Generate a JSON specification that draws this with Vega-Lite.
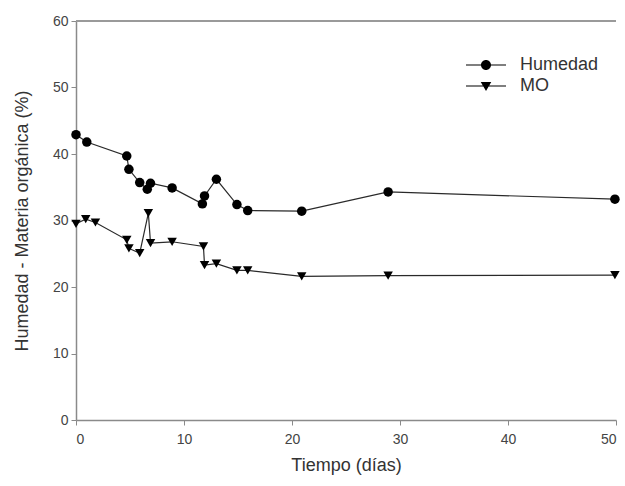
{
  "$schema": "https://vega.github.io/schema/vega-lite/v6.json",
  "width": 540,
  "height": 399,
  "autosize": {"type": "none"},
  "padding": {"left": 76, "top": 21, "right": 9, "bottom": 66},
  "background": "white",
  "config": {
    "view": {"stroke": null},
    "font": "Liberation Sans",
    "axis": {
      "grid": false,
      "domainColor": "#8a8a8a",
      "domainWidth": 1.5,
      "tickColor": "#8a8a8a",
      "tickSize": 5,
      "labelFont": "Liberation Sans",
      "labelFontSize": 14,
      "labelColor": "#444444",
      "titleFont": "Liberation Sans",
      "titleFontSize": 18,
      "titleFontWeight": "normal",
      "titleColor": "#333333"
    }
  },
  "data": {
    "values": [
      {"serie": "Humedad", "leyenda": "Humedad", "ord": 1, "dia": 0, "valor": 42.9},
      {"serie": "Humedad", "leyenda": "Humedad", "ord": 2, "dia": 1, "valor": 41.8},
      {"serie": "Humedad", "leyenda": "Humedad", "ord": 3, "dia": 4.7, "valor": 39.7},
      {"serie": "Humedad", "leyenda": "Humedad", "ord": 4, "dia": 4.9, "valor": 37.7},
      {"serie": "Humedad", "leyenda": "Humedad", "ord": 5, "dia": 5.9, "valor": 35.7},
      {"serie": "Humedad", "leyenda": "Humedad", "ord": 6, "dia": 6.6, "valor": 34.7},
      {"serie": "Humedad", "leyenda": "Humedad", "ord": 7, "dia": 6.9, "valor": 35.6},
      {"serie": "Humedad", "leyenda": "Humedad", "ord": 8, "dia": 8.9, "valor": 34.9},
      {"serie": "Humedad", "leyenda": "Humedad", "ord": 9, "dia": 11.7, "valor": 32.5},
      {"serie": "Humedad", "leyenda": "Humedad", "ord": 10, "dia": 11.9, "valor": 33.7},
      {"serie": "Humedad", "leyenda": "Humedad", "ord": 11, "dia": 13, "valor": 36.2},
      {"serie": "Humedad", "leyenda": "Humedad", "ord": 12, "dia": 14.9, "valor": 32.4},
      {"serie": "Humedad", "leyenda": "Humedad", "ord": 13, "dia": 15.9, "valor": 31.5},
      {"serie": "Humedad", "leyenda": "Humedad", "ord": 14, "dia": 20.9, "valor": 31.4},
      {"serie": "Humedad", "leyenda": "Humedad", "ord": 15, "dia": 28.9, "valor": 34.3},
      {"serie": "Humedad", "leyenda": "Humedad", "ord": 16, "dia": 49.9, "valor": 33.2},
      {"serie": "MO", "leyenda": "MO", "ord": 1, "dia": 0, "valor": 29.5},
      {"serie": "MO", "leyenda": "MO", "ord": 2, "dia": 0.9, "valor": 30.2},
      {"serie": "MO", "leyenda": "MO", "ord": 3, "dia": 1.8, "valor": 29.7},
      {"serie": "MO", "leyenda": "MO", "ord": 4, "dia": 4.7, "valor": 27.1},
      {"serie": "MO", "leyenda": "MO", "ord": 5, "dia": 4.9, "valor": 25.8},
      {"serie": "MO", "leyenda": "MO", "ord": 6, "dia": 5.9, "valor": 25.1},
      {"serie": "MO", "leyenda": "MO", "ord": 7, "dia": 6.7, "valor": 31.1},
      {"serie": "MO", "leyenda": "MO", "ord": 8, "dia": 6.9, "valor": 26.6},
      {"serie": "MO", "leyenda": "MO", "ord": 9, "dia": 8.9, "valor": 26.8},
      {"serie": "MO", "leyenda": "MO", "ord": 10, "dia": 11.8, "valor": 26.1},
      {"serie": "MO", "leyenda": "MO", "ord": 11, "dia": 11.9, "valor": 23.3},
      {"serie": "MO", "leyenda": "MO", "ord": 12, "dia": 13, "valor": 23.5},
      {"serie": "MO", "leyenda": "MO", "ord": 13, "dia": 14.9, "valor": 22.5},
      {"serie": "MO", "leyenda": "MO", "ord": 14, "dia": 15.9, "valor": 22.5},
      {"serie": "MO", "leyenda": "MO", "ord": 15, "dia": 20.9, "valor": 21.6},
      {"serie": "MO", "leyenda": "MO", "ord": 16, "dia": 28.9, "valor": 21.7},
      {"serie": "MO", "leyenda": "MO", "ord": 17, "dia": 49.9, "valor": 21.8}
    ]
  },
  "layer": [
    {
      "mark": {"type": "rule", "color": "#9a9a9a", "strokeWidth": 2},
      "encoding": {"y": {"datum": 60, "type": "quantitative"}}
    },
    {
      "mark": {"type": "line", "color": "#2a2a2a", "strokeWidth": 1.2},
      "encoding": {
        "x": {
          "field": "dia", "type": "quantitative",
          "scale": {"domain": [0, 50], "nice": false, "zero": false},
          "axis": {"values": [0, 10, 20, 30, 40, 50], "title": "Tiempo (días)", "labelPadding": 7, "titlePadding": 10}
        },
        "y": {
          "field": "valor", "type": "quantitative",
          "scale": {"domain": [0, 60], "nice": false},
          "axis": {"values": [0, 10, 20, 30, 40, 50, 60], "title": "Humedad - Materia orgánica (%)", "labelPadding": 3, "titlePadding": 21}
        },
        "detail": {"field": "serie"},
        "order": {"field": "ord", "type": "quantitative"}
      }
    },
    {
      "mark": {"type": "point", "filled": true, "color": "#000000", "opacity": 1, "size": 90},
      "encoding": {
        "x": {"field": "dia", "type": "quantitative"},
        "y": {"field": "valor", "type": "quantitative"},
        "shape": {
          "field": "serie", "type": "nominal",
          "scale": {"domain": ["Humedad", "MO"], "range": ["circle", "triangle-down"]},
          "legend": null
        }
      }
    },
    {
      "mark": {"type": "point", "filled": true, "color": "#000000", "opacity": 0, "size": 105},
      "encoding": {
        "x": {"field": "dia", "type": "quantitative"},
        "y": {"field": "valor", "type": "quantitative"},
        "shape": {
          "field": "leyenda", "type": "nominal",
          "scale": {
            "domain": ["Humedad", "MO"],
            "range": [
              "M-4,-0.12H4V0.12H-4ZM1,0A1,1,0,1,1,-1,0A1,1,0,1,1,1,0Z",
              "M-4,-0.12H4V0.12H-4ZM-1.05,-0.8L1.05,-0.8L0,1Z"
            ]
          },
          "legend": {
            "title": null,
            "orient": "none",
            "legendX": 401,
            "legendY": 35,
            "padding": 0,
            "symbolOpacity": 1,
            "labelOffset": 25,
            "labelFont": "Liberation Sans",
            "labelFontSize": 18,
            "labelColor": "#333333",
            "rowPadding": 3,
            "encode": {
              "symbols": {
                "update": {
                  "fill": {"value": "#111111"},
                  "opacity": {"value": 1}
                }
              }
            }
          }
        }
      }
    }
  ],
  "resolve": {"scale": {"shape": "independent"}}
}
